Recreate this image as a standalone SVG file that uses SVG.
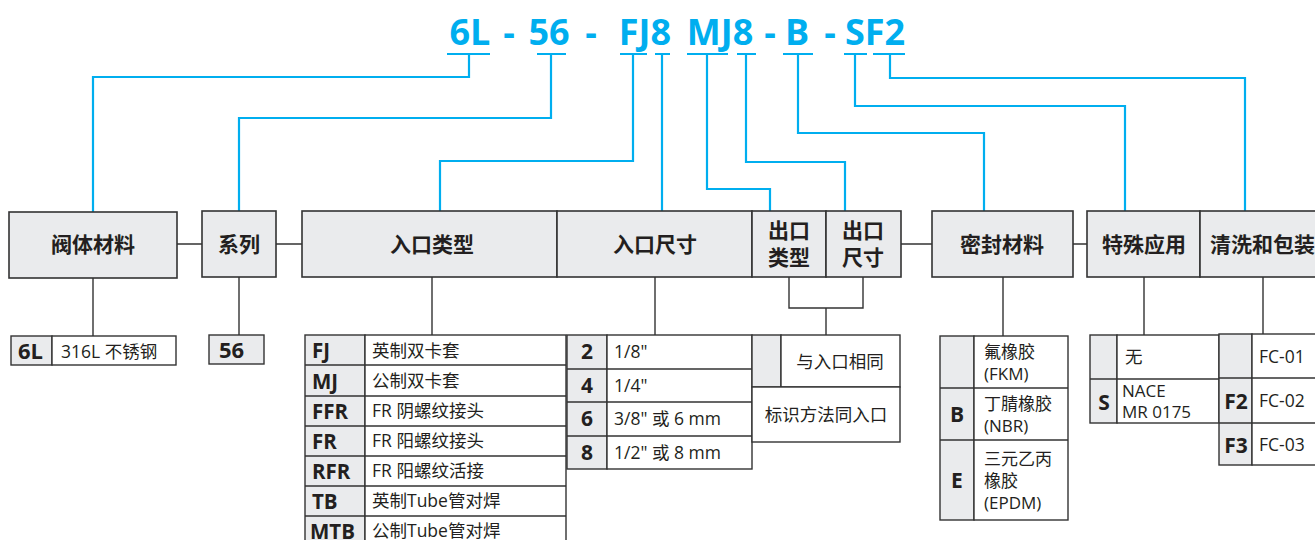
<svg xmlns="http://www.w3.org/2000/svg" width="1315" height="540" viewBox="0 0 1315 540">
<style>
.hdr{fill:#eaebed;stroke:#333;stroke-width:1.6}
.cg{fill:#eaebed;stroke:#333;stroke-width:1.4}
.cw{fill:#fff;stroke:#333;stroke-width:1.4}
.blue{fill:none;stroke:#00aeef;stroke-width:2.2}
.gl{fill:none;stroke:#333;stroke-width:1.4}
.title{font-family:"Open Sans","Noto Sans",sans-serif;font-weight:700;font-size:36px;fill:#00aeef;text-anchor:middle}
.ht{font-family:"Noto Sans CJK SC",sans-serif;font-weight:700;font-size:21px;fill:#231f20;text-anchor:middle}
.code{font-family:"Open Sans","Noto Sans CJK SC",sans-serif;font-weight:700;font-size:20.5px;fill:#231f20}
.codec{font-family:"Open Sans","Noto Sans CJK SC",sans-serif;font-weight:700;font-size:21px;fill:#231f20;text-anchor:middle}
.d{font-family:"Open Sans","Noto Sans CJK SC",sans-serif;font-size:17.5px;fill:#231f20}
.ds{font-family:"Open Sans","Noto Sans CJK SC",sans-serif;font-size:17px;fill:#231f20}
.dc{font-family:"Open Sans","Noto Sans CJK SC",sans-serif;font-size:17.5px;fill:#231f20;text-anchor:middle}
</style>
<rect width="1315" height="540" fill="#fff"/>

<g id="title">
<text class="title" x="470" y="45">6L</text>
<text class="title" x="509" y="45">-</text>
<text class="title" x="549" y="45">56</text>
<text class="title" x="591" y="45">-</text>
<text class="title" x="645" y="45">FJ8</text>
<text class="title" x="720" y="45">MJ8</text>
<text class="title" x="770" y="45">-</text>
<text class="title" x="797" y="45">B</text>
<text class="title" x="830" y="45">-</text>
<text class="title" x="875" y="45">SF2</text>
</g>

<g id="connectors">
<path class="blue" d="M447 54H490M469 54V77H93V212"/>
<path class="blue" d="M537 54H566M551 54V118H239V211"/>
<path class="blue" d="M620 54H647M633 54V161H440V211"/>
<path class="blue" d="M655 54H670M662 54V211"/>
<path class="blue" d="M687 54H728M707 54V189H770V211"/>
<path class="blue" d="M737 54H756M746 54V162H845V211"/>
<path class="blue" d="M783 54H813M798 54V133H984V211"/>
<path class="blue" d="M844 54H867M855 54V106H1125V211"/>
<path class="blue" d="M873 54H905M890 54V78H1245V211"/>
<path class="gl" d="M177 244H202M276 244H302M901 244H932M1073 244H1087"/>
<path class="gl" d="M93 278V336M239 277V335M432 277V335M655 277V335M1003 277V336M1144 277V335M1263 277V334"/>
<path class="gl" d="M789 277V308H863V277M826 308V335"/>
</g>

<g id="h-body"><rect class="hdr" x="9" y="212" width="168" height="66"/><text class="ht" x="93" y="252">阀体材料</text></g>
<g id="h-series"><rect class="hdr" x="202" y="211" width="74" height="66"/><text class="ht" x="239" y="252">系列</text></g>
<g id="h-intype"><rect class="hdr" x="302" y="211" width="255" height="66"/><text class="ht" x="432" y="252">入口类型</text></g>
<g id="h-insize"><rect class="hdr" x="557" y="211" width="195" height="66"/><text class="ht" x="655" y="252">入口尺寸</text></g>
<g id="h-outtype"><rect class="hdr" x="752" y="211" width="74" height="66"/><text class="ht" x="789" y="238">出口</text><text class="ht" x="789" y="265">类型</text></g>
<g id="h-outsize"><rect class="hdr" x="826" y="211" width="75" height="66"/><text class="ht" x="863" y="238">出口</text><text class="ht" x="863" y="265">尺寸</text></g>
<g id="h-seal"><rect class="hdr" x="932" y="211" width="141" height="66"/><text class="ht" x="1002" y="252">密封材料</text></g>
<g id="h-special"><rect class="hdr" x="1087" y="211" width="113" height="66"/><text class="ht" x="1144" y="252">特殊应用</text></g>
<g id="h-clean"><rect class="hdr" x="1200" y="211" width="140" height="66"/><text class="ht" x="1210" y="252" style="text-anchor:start">清洗和包装</text></g>

<g id="t-body">
<rect class="cg" x="11" y="336" width="41" height="29"/><rect class="cw" x="52" y="336" width="124" height="29"/>
<text class="code" x="18" y="359" style="font-size:22px">6L</text><text class="d" x="61" y="358">316L 不锈钢</text>
</g>
<g id="t-series">
<rect class="cg" x="209" y="335" width="55" height="29"/><text class="code" x="219" y="358" style="font-size:22px">56</text>
</g>

<g id="t-intype">
<rect class="cg" x="305" y="335" width="60" height="215"/>
<rect class="cw" x="365" y="335" width="201" height="215"/>
<path class="gl" d="M305 365H566M305 396H566M305 426H566M305 456H566M305 486H566M305 516H566"/>
<text class="code" x="312" y="358">FJ</text><text class="d" x="372" y="357">英制双卡套</text>
<text class="code" x="312" y="389">MJ</text><text class="d" x="372" y="387">公制双卡套</text>
<text class="code" x="312" y="419">FFR</text><text class="d" x="372" y="417">FR 阴螺纹接头</text>
<text class="code" x="312" y="449">FR</text><text class="d" x="372" y="447">FR 阳螺纹接头</text>
<text class="code" x="312" y="479">RFR</text><text class="d" x="372" y="477">FR 阳螺纹活接</text>
<text class="code" x="312" y="509">TB</text><text class="d" x="372" y="507">英制Tube管对焊</text>
<text class="code" x="310" y="539">MTB</text><text class="d" x="372" y="537">公制Tube管对焊</text>
</g>

<g id="t-insize">
<rect class="cg" x="567" y="335" width="40" height="134"/>
<rect class="cw" x="607" y="335" width="145" height="134"/>
<path class="gl" d="M567 369H752M567 402H752M567 436H752"/>
<text class="codec" x="587" y="359">2</text><text class="d" x="614" y="358">1/8"</text>
<text class="codec" x="587" y="393">4</text><text class="d" x="614" y="392">1/4"</text>
<text class="codec" x="587" y="426">6</text><text class="d" x="614" y="425">3/8" 或 6 mm</text>
<text class="codec" x="587" y="460">8</text><text class="d" x="614" y="459">1/2" 或 8 mm</text>
</g>

<g id="t-outlet">
<rect class="cg" x="752" y="335" width="29" height="52"/>
<rect class="cw" x="781" y="335" width="119" height="52"/>
<rect class="cw" x="752" y="387" width="148" height="55"/>
<text class="dc" x="840" y="368">与入口相同</text>
<text class="dc" x="826" y="421">标识方法同入口</text>
</g>

<g id="t-seal">
<rect class="cg" x="940" y="336" width="34" height="184"/>
<rect class="cw" x="974" y="336" width="94" height="184"/>
<path class="gl" d="M940 388H1068M940 440H1068"/>
<text class="ds" x="984" y="358">氟橡胶</text><text class="ds" x="984" y="380">(FKM)</text>
<text class="codec" x="957" y="422">B</text><text class="ds" x="984" y="410">丁腈橡胶</text><text class="ds" x="984" y="432">(NBR)</text>
<text class="codec" x="957" y="488">E</text><text class="ds" x="984" y="465">三元乙丙</text><text class="ds" x="984" y="487">橡胶</text><text class="ds" x="984" y="509">(EPDM)</text>
</g>

<g id="t-special">
<rect class="cg" x="1090" y="335" width="27" height="88"/>
<rect class="cw" x="1117" y="335" width="102" height="88"/>
<path class="gl" d="M1090 379H1219"/>
<text class="d" x="1125" y="363">无</text>
<text class="codec" x="1104" y="410">S</text><text class="ds" x="1122" y="397">NACE</text><text class="ds" x="1122" y="418">MR 0175</text>
</g>

<g id="t-clean">
<rect class="cg" x="1219" y="334" width="33" height="131"/>
<rect class="cw" x="1252" y="334" width="90" height="131"/>
<path class="gl" d="M1219 378H1342M1219 423H1342"/>
<text class="d" x="1259" y="363">FC-01</text>
<text class="codec" x="1236" y="409">F2</text><text class="d" x="1259" y="407">FC-02</text>
<text class="codec" x="1236" y="453">F3</text><text class="d" x="1259" y="451">FC-03</text>
</g>
</svg>
